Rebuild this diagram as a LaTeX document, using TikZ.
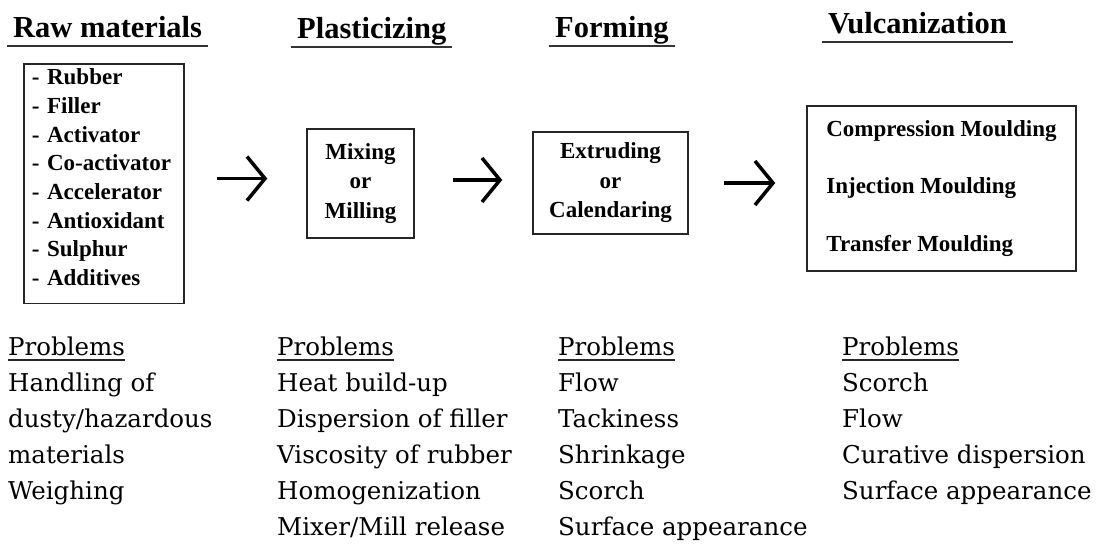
\documentclass[tikz,border=0pt]{standalone}
\usepackage{fontspec}
\setmainfont{Liberation Serif}
\newfontfamily\problemfamily{DejaVu Serif}
\usetikzlibrary{
  arrows.meta,
  matrix,
  positioning,
}
\newcommand\headfont{\fontsize{30.5}{36}\selectfont\bfseries}
\newcommand\stagefont{\fontsize{23}{29.5}\selectfont\bfseries}
\newcommand\mouldfont{\fontsize{23}{57.5}\selectfont\bfseries}
\newcommand\problemfont{\fontsize{24.5}{36}\selectfont\problemfamily}
\tikzset{
  heading/.style = {
    font=\headfont,
    anchor=base west,
    inner xsep=6pt,
    inner ysep=0pt
  },
  heading rule/.style = {
    line width=2pt,
    black!80
  },
  stage box/.style = {
    draw=black!85,
    line width=1.5pt,
    font=\stagefont,
    align=center,
    inner sep=0pt
  },
  flow arrow/.style = {
    line width=3.5pt,
    -{Straight Barb[length=18pt, width=44pt, line width=3.5pt]}
  },
  raw matrix/.style = {
    matrix of nodes,
    draw=black!85,
    line width=1.5pt,
    inner xsep=8pt,
    inner ysep=5pt,
    row sep=0pt,
    nodes={font=\stagefont, anchor=base west, inner sep=0pt,
      text height=16pt, text depth=12.7pt, text width=144pt, align=left}
  },
  problem matrix/.style = {
    matrix of nodes,
    inner sep=0pt,
    row sep=0pt,
    nodes={font=\problemfont, anchor=base west, inner sep=0pt,
      text height=19pt, text depth=17pt}
  },
  problem rule/.style = {
    line width=1.5pt,
    black!85
  },
}

\begin{document}
\begin{tikzpicture}[x=1pt, y=-1pt]
  \useasboundingbox (0,0) rectangle (1100,544);
  %% headings
  \node (hraw) [heading] at (7,37) {Raw materials};
  \node (hplast) [heading] at (291,38) {Plasticizing};
  \node (hform) [heading] at (549,37) {Forming};
  \node (hvulc) [heading] at (822,33) {Vulcanization};
  \foreach \h in {hraw, hplast, hform, hvulc} {
    \draw[heading rule] ([yshift=-9pt]\h.base west) -- ([yshift=-9pt]\h.base east);
  }
  %% stage boxes
  \matrix (raw) [raw matrix, anchor=north west] at (23,63) {
    - Rubber \\
    - Filler \\
    - Activator \\
    - Co-activator \\
    - Accelerator \\
    - Antioxidant \\
    - Sulphur \\
    - Additives \\
  };
  \node (mix) [stage box, minimum width=107pt, minimum height=109pt]
    at (360.5,183.5) {Mixing\\or\\Milling};
  \node (form) [stage box, minimum width=155pt, minimum height=102pt]
    at (610.5,183) {Extruding\\or\\Calendaring};
  \node (vulc) [stage box, font=\mouldfont, align=left, minimum width=269pt, minimum height=165pt]
    at (941.5,188.5) {Compression Moulding\\Injection Moulding\\Transfer Moulding};
  %% arrows
  \draw[flow arrow, shorten <=32pt, shorten >=39pt] ([yshift=5pt]raw.east) -- ([yshift=5pt]raw.east -| mix.west);
  \draw[flow arrow, shorten <=38pt, shorten >=30pt] ([yshift=3.5pt]mix.east) -- ([yshift=3.5pt]mix.east -| form.west);
  \draw[flow arrow, shorten <=35pt, shorten >=31pt] (form.east) -- (form.east -| vulc.west);
  %% problems
  \matrix (c1) [problem matrix, anchor=north west] at (8,336) {
    Problems \\
    Handling of \\
    dusty/hazardous \\
    materials \\
    Weighing \\
  };
  \matrix (c2) [problem matrix, anchor=north west] at (277,336) {
    Problems \\
    Heat build-up \\
    Dispersion of filler \\
    Viscosity of rubber \\
    Homogenization \\
    Mixer/Mill release \\
  };
  \matrix (c3) [problem matrix, anchor=north west] at (558,336) {
    Problems \\
    Flow \\
    Tackiness \\
    Shrinkage \\
    Scorch \\
    Surface appearance \\
  };
  \matrix (c4) [problem matrix, anchor=north west] at (842,336) {
    Problems \\
    Scorch \\
    Flow \\
    Curative dispersion \\
    Surface appearance \\
  };
  \foreach \c in {c1, c2, c3, c4} {
    \draw[problem rule] ([yshift=-5pt]\c-1-1.base west) -- ([yshift=-5pt]\c-1-1.base east);
  }
\end{tikzpicture}
\end{document}
